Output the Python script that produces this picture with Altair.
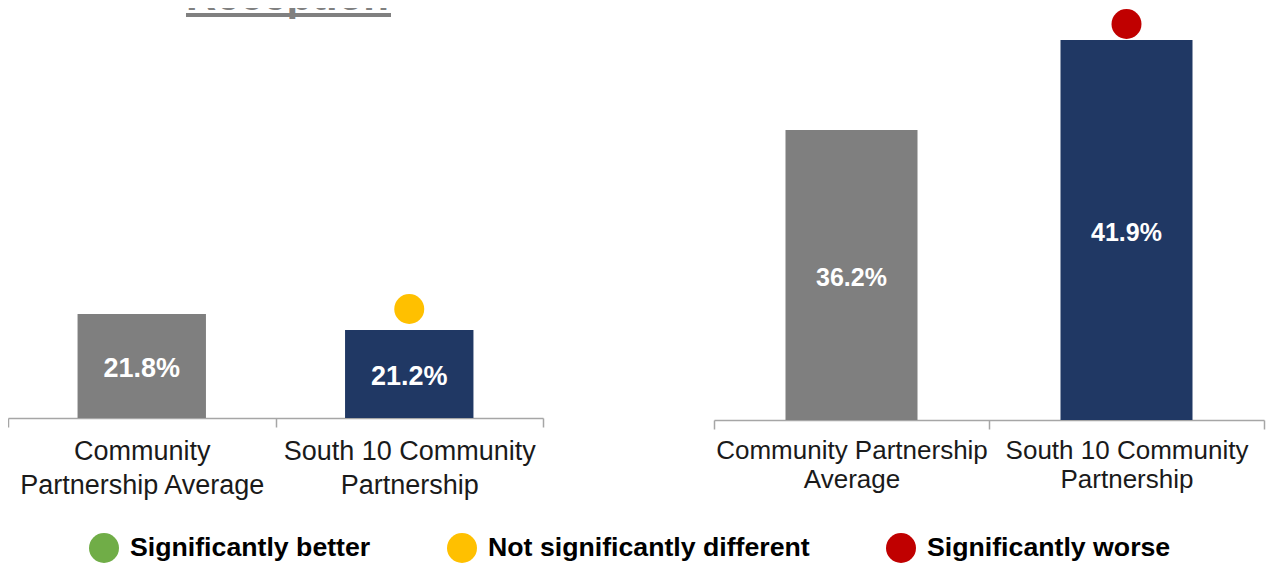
import json
import altair as alt
import pandas as pd

# ---------------- data ----------------
CATEGORIES = ["Community Partnership Average", "South 10 Community Partnership"]
LEFT_VALUES = [21.8, 21.2]
RIGHT_VALUES = [36.2, 41.9]
LEFT_STATUS = ["", "Not significantly different"]
RIGHT_STATUS = ["", "Significantly worse"]
LEFT_LABEL_LINES = [["Community", "Partnership Average"], ["South 10 Community", "Partnership"]]
RIGHT_LABEL_LINES = [["Community Partnership", "Average"], ["South 10 Community", "Partnership"]]
LEGEND_STATUSES = ["Significantly better", "Not significantly different", "Significantly worse"]
TITLE = "Reception"

# ---------------- styles ----------------
LEGEND_COLORS = ["#70ad47", "#ffc000", "#c00000"]
BAR_COLORS = ["#7f7f7f", "#203864"]
AXIS_GREY = "#a6a6a6"
TITLE_GREY = "#808080"
FONT = "Liberation Sans"
W, H = 1260, 555
DOT_SIZE = 900


def label_expr(lines_list):
    expr = "''"
    for cat, lines in reversed(list(zip(CATEGORIES, lines_list))):
        arr = "[" + ", ".join(json.dumps(l) for l in lines) + "]"
        expr = f"datum.value === {json.dumps(cat)} ? {arr} : ({expr})"
    return expr


def panel(values, status, lines, base, dmax, y_range, x_range, axis_offset,
          label_size, line_height, label_pad, value_size, dot_offset):
    df = pd.DataFrame({"category": CATEGORIES, "value": values, "status": status})
    xscale = alt.Scale(domain=CATEGORIES, range=x_range, paddingInner=0, paddingOuter=0)
    x = alt.X(
        "category:N", sort=CATEGORIES, title=None, scale=xscale,
        axis=alt.Axis(
            orient="bottom", offset=axis_offset, labelExpr=label_expr(lines), labelAngle=0,
            labelFont=FONT, labelFontSize=label_size, labelLineHeight=line_height,
            labelColor="#1a1a1a", labelPadding=label_pad, labelLimit=0,
            domainColor=AXIS_GREY, domainWidth=1.5, tickColor=AXIS_GREY, tickWidth=1.5,
            tickSize=9, tickBand="extent", grid=False,
        ),
    )
    yscale = alt.Scale(domain=[base, dmax], range=y_range, zero=False, nice=False)
    base_chart = alt.Chart(df).transform_calculate(
        mid=f"({base} + datum.value) / 2",
        label="format(datum.value, '.1f') + '%'",
    )
    bars = base_chart.mark_bar(width=alt.RelativeBandSize(0.48)).encode(
        x=x,
        y=alt.Y("value:Q", axis=None, title=None, scale=yscale),
        y2=alt.datum(base),
        fill=alt.Fill("category:N", scale=alt.Scale(domain=CATEGORIES, range=BAR_COLORS), legend=None),
    )
    texts = base_chart.mark_text(
        font=FONT, fontSize=value_size, fontWeight="bold", color="white", baseline="middle", dy=3
    ).encode(
        x=x,
        y=alt.Y("mid:Q", axis=None, title=None, scale=yscale),
        text="label:N",
    )
    dots = base_chart.transform_filter("datum.status != ''").mark_circle(
        size=DOT_SIZE, opacity=1, yOffset=dot_offset
    ).encode(
        x=x,
        y=alt.Y("value:Q", axis=None, title=None, scale=yscale),
        color=alt.Color(
            "status:N",
            scale=alt.Scale(domain=LEGEND_STATUSES, range=LEGEND_COLORS),
            legend=alt.Legend(
                title=None, orient="none", legendX=81, legendY=525, direction="horizontal",
                symbolType="circle", symbolSize=DOT_SIZE, symbolStrokeWidth=0, symbolOpacity=1,
                labelFont=FONT, labelFontSize=26.7, labelFontWeight="bold", labelColor="#000000",
                labelOffset=11, columnPadding=76, labelLimit=0,
            ),
        ),
    )
    return alt.layer(bars, texts, dots)


left = panel(LEFT_VALUES, LEFT_STATUS, LEFT_LABEL_LINES, 17.9, 32.9, [410, 10], [0, 535],
             410 - H, 27, 34, 11, 27, -21)
right = panel(RIGHT_VALUES, RIGHT_STATUS, RIGHT_LABEL_LINES, 17.85, 41.9, [412, 32], [706, 1256],
              412 - H, 26, 29, 8, 25, -16)

title_text = alt.Chart(pd.DataFrame({"title": [TITLE]})).mark_text(
    font=FONT, fontSize=42, fontWeight="bold", color=TITLE_GREY, align="left", baseline="alphabetic"
).encode(text="title:N", x=alt.value(178), y=alt.value(2))

underline = alt.Chart(pd.DataFrame({"title": [TITLE]})).mark_rule(
    color=TITLE_GREY, strokeWidth=4
).encode(x=alt.value(178), x2=alt.value(383), y=alt.value(7))

chart = alt.layer(title_text, underline, left, right).resolve_scale(
    x="independent", y="independent"
).properties(
    width=W, height=H, padding=0, autosize=alt.AutoSizeParams(type="none")
).configure_view(stroke=None)

chart.save("out.html", embed_options={"renderer": "svg", "actions": False})
